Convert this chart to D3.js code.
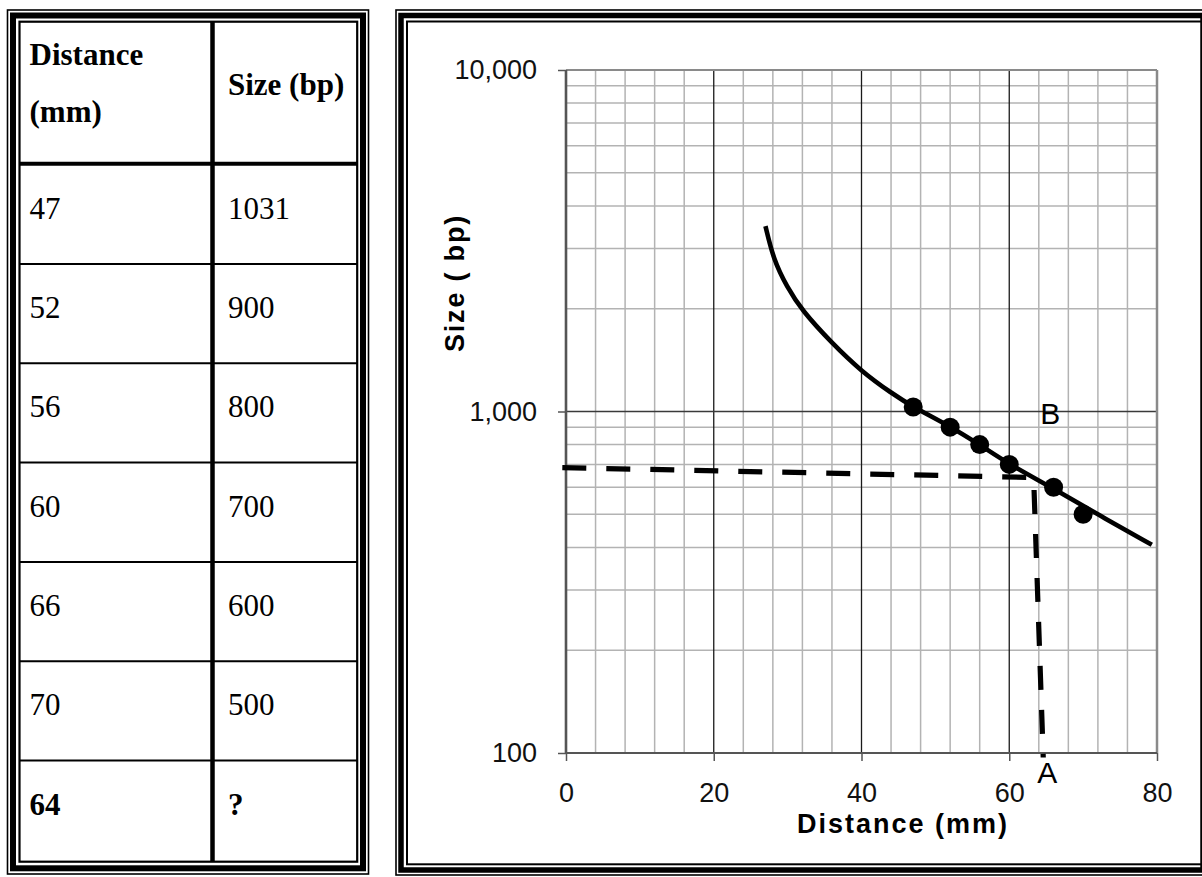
<!DOCTYPE html>
<html>
<head>
<meta charset="utf-8">
<script src="https://cdn.jsdelivr.net/npm/d3@7"></script>
<style>
  html, body { margin: 0; padding: 0; background: #ffffff; }
  svg { display: block; }
</style>
</head>
<body>
<svg id="chart" width="1202" height="877"></svg>
<script>
// ---------------- DATA ----------------
const tableHeaders = [["Distance", "(mm)"], ["Size (bp)"]];
const tableDistances = ["47", "52", "56", "60", "66", "70", "64"];
const tableSizes = ["1031", "900", "800", "700", "600", "500", "?"];
const boldRows = [false, false, false, false, false, false, true];

const pointDistance = [47, 52, 56, 60, 66, 70];
const pointSize = [1031, 900, 800, 700, 600, 500];

// standard curve
const curveDistance = [27, 28.1, 29.9, 31.9, 36, 40, 44.1, 47, 52, 56, 60, 66, 72.3, 79.3];
const curveSize = [3490, 2780, 2320, 1980, 1585, 1310, 1130, 1030, 905, 800, 700, 595, 495, 407];

// dashed reading line (from y-axis to curve, then down to x-axis)
const readDistance = [-0.5, 63.3, 64.6];
const readSize = [685, 641, 97];

const xTicks = [0, 20, 40, 60, 80];
const yTicks = [100, 1000, 10000];
const xMajorGrid = [20, 40, 60];
const yMajorGrid = [1000];
const xTitle = "Distance (mm)";
const yTitle = "Size ( bp)";
const markA = { label: "A", distance: 64.6, size: 100 };
const markB = { label: "B", distance: 64.6, size: 1000 };

// ---------------- DRAW ----------------
const svg = d3.select("#chart");

// table frame (thin / thick / thin)
svg.append("rect").attr("x", 7.5).attr("y", 10).attr("width", 361).attr("height", 864)
  .attr("fill", "none").attr("stroke", "#000").attr("stroke-width", 1.6);
svg.append("rect").attr("x", 13).attr("y", 15.5).attr("width", 350).attr("height", 852.8)
  .attr("fill", "none").attr("stroke", "#000").attr("stroke-width", 6);
svg.append("rect").attr("x", 19.5).attr("y", 21.7).attr("width", 337.7).attr("height", 840)
  .attr("fill", "none").attr("stroke", "#000").attr("stroke-width", 2.2);

// chart frame
svg.append("rect").attr("x", 396).attr("y", 10).attr("width", 812).attr("height", 865)
  .attr("fill", "none").attr("stroke", "#000").attr("stroke-width", 1.6);
svg.append("rect").attr("x", 401).attr("y", 15.5).attr("width", 802).attr("height", 854.5)
  .attr("fill", "none").attr("stroke", "#000").attr("stroke-width", 5.5);
svg.append("rect").attr("x", 407).attr("y", 21.5).attr("width", 796).attr("height", 842.8)
  .attr("fill", "none").attr("stroke", "#000").attr("stroke-width", 2);

// ---------- table ----------
const tbl = svg.append("g");
const colDivX = 212.5;
const headerLineY = 163.7;
const rowTop0 = 165.7;
const rowH = 99.3;
tbl.append("line").attr("x1", 19.5).attr("x2", 357.2).attr("y1", headerLineY).attr("y2", headerLineY)
  .attr("stroke", "#000").attr("stroke-width", 4);
tbl.append("line").attr("x1", colDivX).attr("x2", colDivX).attr("y1", 21.7).attr("y2", 861.7)
  .attr("stroke", "#000").attr("stroke-width", 4.5);
for (let k = 1; k < tableDistances.length; k++) {
  const yy = rowTop0 + rowH * k - 1;
  tbl.append("line").attr("x1", 19.5).attr("x2", 357.2).attr("y1", yy).attr("y2", yy)
    .attr("stroke", "#000").attr("stroke-width", 2);
}
const serif = "'Liberation Serif', 'Times New Roman', serif";
tbl.append("text").attr("x", 29.5).attr("y", 65).attr("font-family", serif).attr("font-size", 31)
  .attr("font-weight", "bold").text(tableHeaders[0][0]);
tbl.append("text").attr("x", 29.5).attr("y", 122).attr("font-family", serif).attr("font-size", 31)
  .attr("font-weight", "bold").text(tableHeaders[0][1]);
tbl.append("text").attr("x", 228).attr("y", 95).attr("font-family", serif).attr("font-size", 31)
  .attr("font-weight", "bold").text(tableHeaders[1][0]);
tableDistances.forEach((d, i) => {
  const base = rowTop0 + rowH * i + 53;
  tbl.append("text").attr("x", 29.5).attr("y", base).attr("font-family", serif).attr("font-size", 31)
    .attr("font-weight", boldRows[i] ? "bold" : "normal").text(d);
  tbl.append("text").attr("x", 228).attr("y", base).attr("font-family", serif).attr("font-size", 31)
    .attr("font-weight", boldRows[i] ? "bold" : "normal").text(tableSizes[i]);
});

// ---------- chart ----------
const x = d3.scaleLinear().domain([0, 80]).range([566, 1157]);
const y = d3.scaleLog().domain([100, 10000]).range([753, 70]);
const sans = "'Liberation Sans', Arial, sans-serif";

const grid = svg.append("g");
// minor vertical grid every 4 mm
const xMinor = d3.range(0, 81, 4).filter(v => v !== 0 && v !== 80 && xMajorGrid.indexOf(v) < 0);
grid.selectAll("line.xv").data(xMinor).enter().append("line")
  .attr("x1", d => x(d)).attr("x2", d => x(d)).attr("y1", y(10000)).attr("y2", y(100))
  .attr("stroke", "#b3b3b3").attr("stroke-width", 1.5);
// minor horizontal log grid
const yMinor = y.ticks().filter(v => yTicks.indexOf(v) < 0);
grid.selectAll("line.yh").data(yMinor).enter().append("line")
  .attr("x1", x(0)).attr("x2", x(80)).attr("y1", d => y(d)).attr("y2", d => y(d))
  .attr("stroke", "#b3b3b3").attr("stroke-width", 1.5);
// major grid
grid.selectAll("line.xm").data(xMajorGrid).enter().append("line")
  .attr("x1", d => x(d)).attr("x2", d => x(d)).attr("y1", y(10000)).attr("y2", y(100))
  .attr("stroke", "#1a1a1a").attr("stroke-width", 1.3);
grid.selectAll("line.ym").data(yMajorGrid).enter().append("line")
  .attr("x1", x(0)).attr("x2", x(80)).attr("y1", d => y(d)).attr("y2", d => y(d))
  .attr("stroke", "#3a3a3a").attr("stroke-width", 1.5);
// top and right plot borders
grid.append("line").attr("x1", x(0)).attr("x2", x(80)).attr("y1", y(10000)).attr("y2", y(10000))
  .attr("stroke", "#8a8a8a").attr("stroke-width", 2);
grid.append("line").attr("x1", x(80)).attr("x2", x(80)).attr("y1", y(10000)).attr("y2", y(100))
  .attr("stroke", "#8a8a8a").attr("stroke-width", 2.5);

// axes
const yAxis = d3.axisLeft(y).tickValues(yTicks).tickFormat(d3.format(",")).tickSize(8).tickPadding(21);
const yG = svg.append("g").attr("transform", `translate(${x(0)},0)`).call(yAxis);
const xAxis = d3.axisBottom(x).tickValues(xTicks).tickSize(8).tickPadding(22);
const xG = svg.append("g").attr("transform", `translate(0,${y(100)})`).call(xAxis);
[yG, xG].forEach(g => {
  g.select(".domain").remove();
  g.selectAll(".tick line").attr("stroke", "#555").attr("stroke-width", 1.5);
  g.selectAll(".tick text").attr("font-family", sans).attr("font-size", 27).attr("fill", "#111");
});
svg.append("line").attr("x1", x(0)).attr("x2", x(0)).attr("y1", y(10000)).attr("y2", y(100))
  .attr("stroke", "#555").attr("stroke-width", 2.6);
svg.append("line").attr("x1", x(0)).attr("x2", x(80)).attr("y1", y(100)).attr("y2", y(100))
  .attr("stroke", "#555").attr("stroke-width", 2);

// axis titles
svg.append("text").attr("x", 903).attr("y", 833).attr("text-anchor", "middle")
  .attr("font-family", sans).attr("font-size", 27).attr("font-weight", "bold")
  .attr("letter-spacing", 2).text(xTitle);
svg.append("text").attr("transform", "translate(464,283) rotate(-90)").attr("text-anchor", "middle")
  .attr("font-family", sans).attr("font-size", 27).attr("font-weight", "bold")
  .attr("letter-spacing", 1.8).text(yTitle);

// dashed reading line
const readData = readDistance.map((d, i) => [d, readSize[i]]);
svg.append("path").datum(readData)
  .attr("d", d3.line().x(d => x(d[0])).y(d => y(d[1])))
  .attr("fill", "none").attr("stroke", "#000").attr("stroke-width", 5.2)
  .attr("stroke-dasharray", "24,20");

// standard curve
const curveData = curveDistance.map((d, i) => [d, curveSize[i]]);
svg.append("path").datum(curveData)
  .attr("d", d3.line().x(d => x(d[0])).y(d => y(d[1])).curve(d3.curveBasis))
  .attr("fill", "none").attr("stroke", "#000").attr("stroke-width", 4.6);

// points
svg.selectAll("circle.pt").data(pointDistance).enter().append("circle")
  .attr("cx", d => x(d)).attr("cy", (d, i) => y(pointSize[i])).attr("r", 9.5).attr("fill", "#000");

// labels A and B
svg.append("text").attr("x", x(markB.distance) - 3).attr("y", y(markB.size) + 12)
  .attr("font-family", sans).attr("font-size", 30).attr("fill", "#000").text(markB.label);
svg.append("text").attr("x", x(markA.distance) - 6).attr("y", y(markA.size) + 30)
  .attr("font-family", sans).attr("font-size", 30).attr("fill", "#000").text(markA.label);
</script>
</body>
</html>
